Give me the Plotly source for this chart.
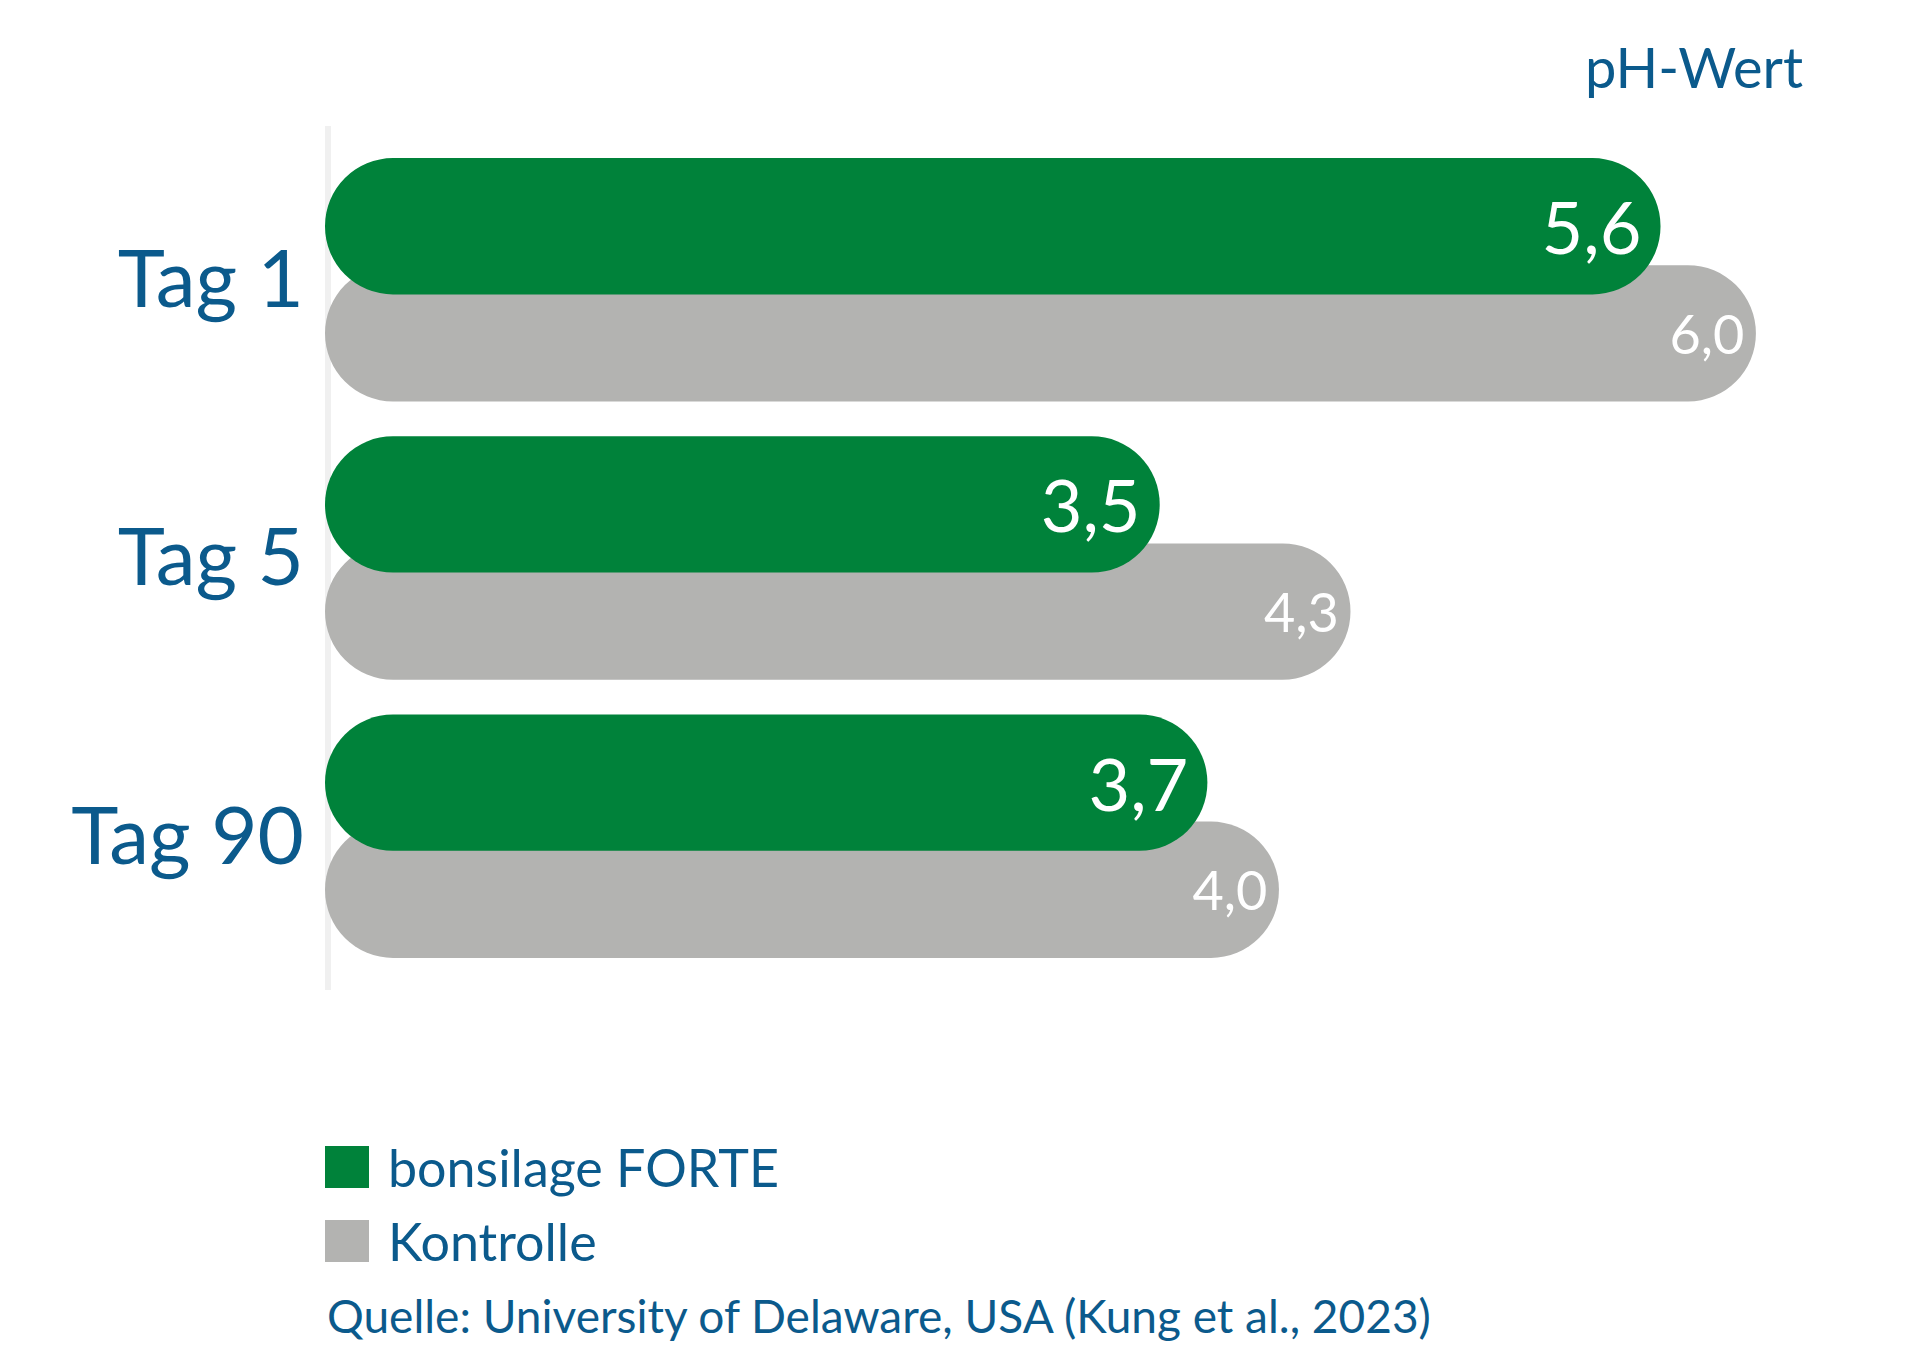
import plotly.graph_objects as go

categories = ["Tag 1", "Tag 5", "Tag 90"]
forte = [5.6, 3.5, 3.7]
kontrolle = [6.0, 4.3, 4.0]
forte_lbl = ["5,6", "3,5", "3,7"]
kontr_lbl = ["6,0", "4,3", "4,0"]

GREEN = "#00823a"; GREY = "#b3b3b1"; BLUE = "#0b5a8c"
W, H = 1920, 1362
ML, MR, MT, MB = 317, 29, 100, 362
pos = [0, 1, 2]

def px(x, y):
    return (x - ML) / (W - ML - MR), 1 - (y - MT) / (H - MT - MB)

fig = go.Figure()
fig.add_trace(go.Bar(y=pos, x=kontrolle, orientation="h", base=0, width=0.49, offset=-0.05,
                     marker=dict(color=GREY, cornerradius=70, line_width=0),
                     text=kontr_lbl, textposition="inside", insidetextanchor="end",
                     textfont=dict(color="white", size=54, family="Lato"), hoverinfo="skip"))
fig.add_trace(go.Bar(y=pos, x=forte, orientation="h", base=0, width=0.49, offset=-0.435,
                     marker=dict(color=GREEN, cornerradius=70, line_width=0),
                     text=forte_lbl, textposition="inside", insidetextanchor="end",
                     textfont=dict(color="white", size=72, family="Lato"), hoverinfo="skip"))

fig.update_layout(
    width=W, height=H, margin=dict(l=ML, r=MR, t=MT, b=MB),
    paper_bgcolor="white", plot_bgcolor="white", showlegend=False, barmode="overlay",
    uniformtext=dict(mode=False),
    font=dict(family="Lato", color=BLUE),
    xaxis=dict(range=[0, 6.6], visible=False),
    yaxis=dict(range=[2.62, -0.615], tickvals=pos, ticktext=categories,
               tickfont=dict(size=80, color=BLUE, family="Lato"), showgrid=False,
               zeroline=False, showline=False, ticks="", ticklabelstandoff=20),
)
# faint axis shadow
fig.add_shape(type="line", xref="x", yref="paper", x0=0, x1=0, y0=0.02, y1=0.98,
              line=dict(color="rgba(0,0,0,0.06)", width=12), layer="below")

ax, ay = px(1797, 59)
fig.add_annotation(xref="paper", yref="paper", x=ax, y=ay, text="pH-Wert", showarrow=False,
                   xanchor="right", yanchor="middle", font=dict(size=56, color=BLUE))

for col, label, yc in [(GREEN, "bonsilage FORTE", 1159), (GREY, "Kontrolle", 1233)]:
    x0, y0 = px(317, yc - 21); x1, y1 = px(361, yc + 21)
    fig.add_shape(type="rect", xref="paper", yref="paper", x0=x0, x1=x1, y0=y1, y1=y0,
                  fillcolor=col, line_width=0)
    tx, ty = px(378, yc)
    fig.add_annotation(xref="paper", yref="paper", x=tx, y=ty, text=label, showarrow=False,
                       xanchor="left", yanchor="middle", font=dict(size=52, color=BLUE))
sx, sy = px(317, 1307)
fig.add_annotation(xref="paper", yref="paper", x=sx, y=sy,
                   text="Quelle: University of Delaware, USA (Kung et al., 2023)", showarrow=False,
                   xanchor="left", yanchor="middle", font=dict(size=46, color=BLUE))

fig.write_html("out.html")
